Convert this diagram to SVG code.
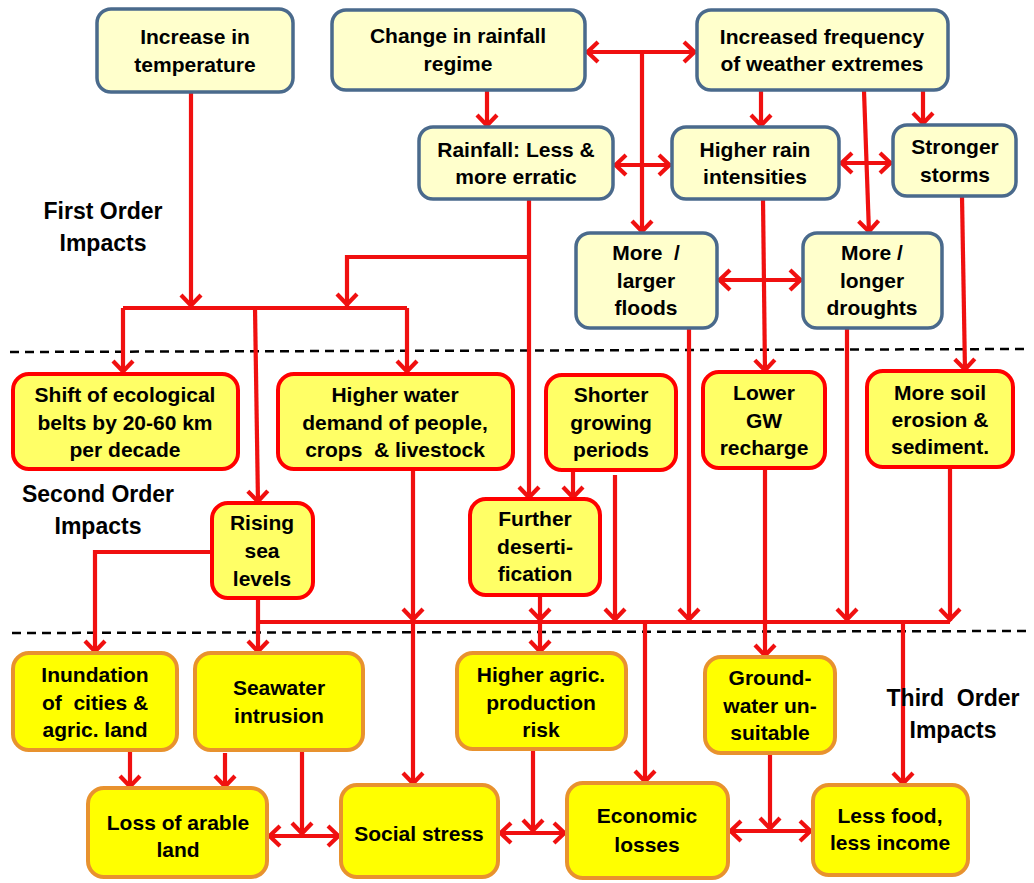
<svg xmlns="http://www.w3.org/2000/svg" width="1034" height="883" viewBox="0 0 1034 883">
<style>
text { font-family: "Liberation Sans", Arial, sans-serif; font-weight: bold; font-size: 21px; fill: #000; text-anchor: middle; white-space: pre; }
.lbl { font-size: 23px; }
.n1 { fill: #FFFFCC; stroke: #4A6A8C; stroke-width: 3.5; }
.n2 { fill: #FFFF66; stroke: #FF0000; stroke-width: 4; }
.n3 { fill: #FFFF00; stroke: #E8922E; stroke-width: 4; }
.c { fill: none; stroke: #F01010; stroke-width: 4.2; }
.a { marker-end: url(#ah); }
.d { marker-start: url(#ah); marker-end: url(#ah); }
.dash { fill: none; stroke: #000; stroke-width: 2.5; stroke-dasharray: 9 6; }
</style>
<defs>
<marker id="ah" viewBox="-16 -13 18 26" refX="0" refY="0" markerWidth="18" markerHeight="26" markerUnits="userSpaceOnUse" orient="auto-start-reverse">
<path d="M-12,-10 L-1.5,0 L-12,10" fill="none" stroke="#F01010" stroke-width="4.2"/>
</marker>
</defs>
<rect width="1034" height="883" fill="#FFFFFF"/>

<g id="dividers">
<line class="dash" x1="10" y1="352" x2="1024" y2="349"/>
<line class="dash" x1="12" y1="633" x2="1030" y2="631"/>
</g>

<g id="connectors">
<path class="c a" d="M191,92 V307"/>
<path class="c" d="M123,308 H407"/>
<path class="c a" d="M123,308 V373"/>
<path class="c a" d="M255,308 L258,503"/>
<path class="c a" d="M407,308 V373"/>
<path class="c a" d="M529,199 V499"/>
<path class="c a" d="M529,257 H347 V306"/>
<path class="c a" d="M487,90 V127"/>
<path class="c d" d="M586,52 H696"/>
<path class="c a" d="M642,52 V233"/>
<path class="c d" d="M614,165 H671"/>
<path class="c a" d="M761,90 V127"/>
<path class="c a" d="M923,90 V125"/>
<path class="c a" d="M864,91 L869,233"/>
<path class="c d" d="M840,163 H892"/>
<path class="c d" d="M718,280 H802"/>
<path class="c a" d="M763,199 L765,372"/>
<path class="c a" d="M962,196 L965,371"/>
<path class="c a" d="M573,470 V499"/>
<path class="c a" d="M615,475 V621"/>
<path class="c a" d="M689,328 V621"/>
<path class="c a" d="M847,328 V621"/>
<path class="c a" d="M950,467 V621"/>
<path class="c a" d="M413,469 V621"/>
<path class="c a" d="M413,622 V785"/>
<path class="c a" d="M540,595 V621"/>
<path class="c a" d="M540,622 V653"/>
<path class="c" d="M258,622 H950"/>
<path class="c a" d="M212,552 H95 V653"/>
<path class="c a" d="M258,598 V653"/>
<path class="c a" d="M645,622 V783"/>
<path class="c a" d="M765,468 V657"/>
<path class="c a" d="M903,622 V785"/>
<path class="c a" d="M130,750 V788"/>
<path class="c a" d="M225,753 V788"/>
<path class="c a" d="M302,750 V835"/>
<path class="c d" d="M268,836 H340"/>
<path class="c a" d="M533,749 V832"/>
<path class="c d" d="M499,833 H566"/>
<path class="c a" d="M770,753 V830"/>
<path class="c d" d="M729,831 H812"/>
</g>

<g id="n-temperature"><rect class="n1" x="97" y="9" width="196" height="83" rx="14"/><text x="195" y="44">Increase in</text><text x="195" y="72">temperature</text></g>
<g id="n-rainfall-regime"><rect class="n1" x="332" y="10" width="253" height="80" rx="14"/><text x="458" y="43">Change in rainfall</text><text x="458" y="71">regime</text></g>
<g id="n-weather-extremes"><rect class="n1" x="697" y="10" width="251" height="80" rx="14"/><text x="822" y="44">Increased frequency</text><text x="822" y="71">of weather extremes</text></g>
<g id="n-rainfall-less"><rect class="n1" x="419" y="127" width="194" height="72" rx="14"/><text x="516" y="157">Rainfall: Less &amp;</text><text x="516" y="184">more erratic</text></g>
<g id="n-rain-intensities"><rect class="n1" x="672" y="127" width="167" height="72" rx="14"/><text x="755" y="157">Higher rain</text><text x="755" y="184">intensities</text></g>
<g id="n-storms"><rect class="n1" x="893" y="125" width="123" height="71" rx="14"/><text x="955" y="154">Stronger</text><text x="955" y="182">storms</text></g>
<g id="n-floods"><rect class="n1" x="576" y="233" width="141" height="95" rx="14"/><text x="646" y="260">More  /</text><text x="646" y="288">larger</text><text x="646" y="315">floods</text></g>
<g id="n-droughts"><rect class="n1" x="803" y="233" width="139" height="95" rx="14"/><text x="872" y="260">More /</text><text x="872" y="288">longer</text><text x="872" y="315">droughts</text></g>

<g id="n-ecological-belts"><rect class="n2" x="13" y="374" width="225" height="95" rx="16"/><text x="125" y="402">Shift of ecological</text><text x="125" y="430">belts by 20-60 km</text><text x="125" y="457">per decade</text></g>
<g id="n-water-demand"><rect class="n2" x="278" y="374" width="235" height="95" rx="16"/><text x="395" y="402">Higher water</text><text x="395" y="430">demand of people,</text><text x="395" y="457">crops  &amp; livestock</text></g>
<g id="n-shorter-growing"><rect class="n2" x="546" y="375" width="130" height="95" rx="16"/><text x="611" y="402">Shorter</text><text x="611" y="430">growing</text><text x="611" y="457">periods</text></g>
<g id="n-lower-gw"><rect class="n2" x="703" y="372" width="122" height="96" rx="16"/><text x="764" y="400">Lower</text><text x="764" y="428">GW</text><text x="764" y="455">recharge</text></g>
<g id="n-soil-erosion"><rect class="n2" x="867" y="371" width="146" height="96" rx="16"/><text x="940" y="400">More soil</text><text x="940" y="427">erosion &amp;</text><text x="940" y="454">sediment.</text></g>
<g id="n-rising-sea"><rect class="n2" x="212" y="503" width="101" height="95" rx="16"/><text x="262" y="530">Rising</text><text x="262" y="558">sea</text><text x="262" y="586">levels</text></g>
<g id="n-desertification"><rect class="n2" x="470" y="499" width="130" height="96" rx="16"/><text x="535" y="526">Further</text><text x="535" y="554">deserti-</text><text x="535" y="581">fication</text></g>

<g id="n-inundation"><rect class="n3" x="13" y="653" width="164" height="97" rx="16"/><text x="95" y="682">Inundation</text><text x="95" y="710">of  cities &amp;</text><text x="95" y="737">agric. land</text></g>
<g id="n-seawater"><rect class="n3" x="195" y="653" width="168" height="97" rx="16"/><text x="279" y="695">Seawater</text><text x="279" y="723">intrusion</text></g>
<g id="n-agric-risk"><rect class="n3" x="457" y="653" width="169" height="96" rx="16"/><text x="541" y="682">Higher agric.</text><text x="541" y="710">production</text><text x="541" y="737">risk</text></g>
<g id="n-groundwater"><rect class="n3" x="705" y="657" width="130" height="96" rx="16"/><text x="770" y="685">Ground-</text><text x="770" y="713">water un-</text><text x="770" y="740">suitable</text></g>
<g id="n-loss-arable"><rect class="n3" x="88" y="788" width="179" height="89" rx="16"/><text x="178" y="830">Loss of arable</text><text x="178" y="857">land</text></g>
<g id="n-social-stress"><rect class="n3" x="341" y="785" width="157" height="92" rx="16"/><text x="419" y="841">Social stress</text></g>
<g id="n-economic-losses"><rect class="n3" x="567" y="783" width="161" height="95" rx="16"/><text x="647" y="823">Economic</text><text x="647" y="852">losses</text></g>
<g id="n-less-food"><rect class="n3" x="813" y="785" width="155" height="90" rx="16"/><text x="890" y="823">Less food,</text><text x="890" y="850">less income</text></g>

<g id="labels">
<text class="lbl" x="103" y="219">First Order</text>
<text class="lbl" x="103" y="251">Impacts</text>
<text class="lbl" x="98" y="502">Second Order</text>
<text class="lbl" x="98" y="534">Impacts</text>
<text class="lbl" x="953" y="706">Third  Order</text>
<text class="lbl" x="953" y="738">Impacts</text>
</g>
</svg>
